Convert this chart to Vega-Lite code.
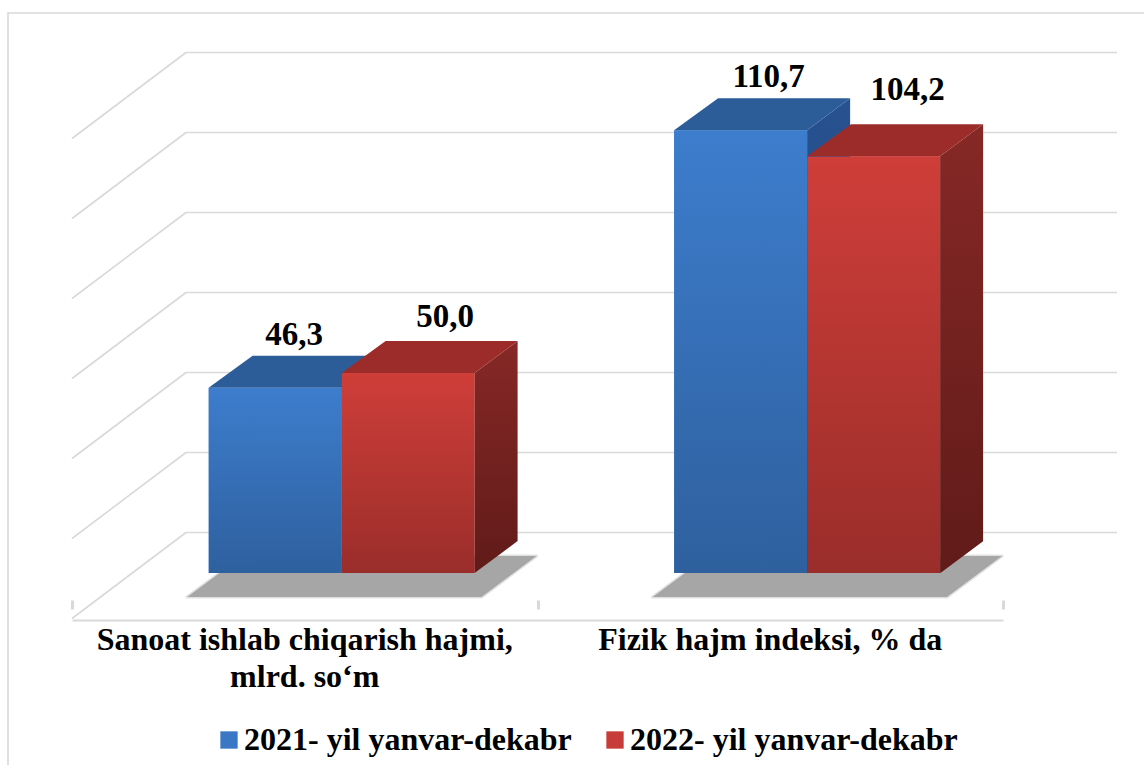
{"$schema":"https://vega.github.io/schema/vega-lite/v6.json","width":931,"height":765,"autosize":"none","padding":{"left":72,"right":141,"top":0,"bottom":0},"background":"white","config":{"view":{"stroke":null},"locale":{"number":{"decimal":",","thousands":" ","grouping":[3],"currency":["",""]}}},"resolve":{"axis":{"x":"independent"}},"datasets":{"bars":[{"category":"Sanoat ishlab chiqarish hajmi, mlrd. so‘m","series":"2021- yil yanvar-dekabr","value":46.3},{"category":"Sanoat ishlab chiqarish hajmi, mlrd. so‘m","series":"2022- yil yanvar-dekabr","value":50.0},{"category":"Fizik hajm indeksi, % da","series":"2021- yil yanvar-dekabr","value":110.7},{"category":"Fizik hajm indeksi, % da","series":"2022- yil yanvar-dekabr","value":104.2}],"levels":[{"level":0},{"level":20},{"level":40},{"level":60},{"level":80},{"level":100},{"level":120}]},"data":{"name":"bars"},"encoding":{"x":{"field":"category","type":"nominal","axis":null,"title":null,"scale":{"domain":["Sanoat ishlab chiqarish hajmi, mlrd. so‘m","Fizik hajm indeksi, % da"],"paddingInner":0,"paddingOuter":0}},"xOffset":{"field":"series","type":"nominal","scale":{"domain":["2021- yil yanvar-dekabr","2022- yil yanvar-dekabr"],"range":[136.6,402.6],"paddingInner":0,"paddingOuter":0}},"y":{"field":"value","type":"quantitative","axis":null,"title":null,"scale":{"domain":[-48,143.25],"nice":false,"zero":false}}},"layer":[{"data":{"name":"levels"},"mark":{"type":"point","filled":false,"size":4,"stroke":"#d9d9d9","strokeWidth":1.6,"opacity":1,"shape":"M-118.75,-40.5L812.25,-40.5M-118.75,-40.5L-232.75,45.5"},"encoding":{"x":{"datum":"Sanoat ishlab chiqarish hajmi, mlrd. so‘m","type":"nominal","axis":null},"xOffset":null,"y":{"field":"level","type":"quantitative","axis":null}}},{"transform":[{"filter":"datum.value==46.3"}],"mark":{"type":"point","filled":false,"size":4,"stroke":"#d9d9d9","strokeWidth":1.6,"opacity":1,"shape":"M-296.75,192L-296.75,-560L839.25,-560"},"encoding":{"x":{"datum":"Sanoat ishlab chiqarish hajmi, mlrd. so‘m","type":"nominal","axis":null},"xOffset":null,"y":{"datum":0,"type":"quantitative"}}},{"transform":[{"filter":"datum.series=='2021- yil yanvar-dekabr'"}],"mark":{"type":"point","filled":true,"size":4,"fill":"#a6a6a6","stroke":"#a6a6a6","strokeOpacity":0.35,"strokeWidth":3,"strokeJoin":"round","opacity":1,"shape":"M-117.5,24L176.75,24L231.75,-17L-62.25,-17Z"},"encoding":{"x":{"field":"category","type":"nominal","axis":{"orient":"bottom","title":null,"domain":false,"labels":false,"grid":false,"tickBand":"extent","ticks":true,"tickSize":-9,"tickWidth":3,"tickColor":"#d9d9d9","offset":-156}},"xOffset":null,"y":{"datum":0,"type":"quantitative"}}},{"mark":{"type":"bar"},"encoding":{"x":{"field":"category","type":"nominal","axis":{"orient":"bottom","title":null,"domain":true,"domainColor":"#d9d9d9","domainWidth":2,"ticks":false,"grid":false,"labelAngle":0,"labelFont":"Liberation Serif","labelFontWeight":"bold","labelFontSize":32,"labelColor":"#000000","labelLimit":700,"labelPadding":4,"labelLineHeight":37,"labelExpr":"indexof(datum.label,'mlrd')>0 ? [slice(datum.label,0,30), slice(datum.label,31)] : datum.label","offset":-145}},"color":{"field":"series","type":"nominal","title":null,"scale":{"domain":["2021- yil yanvar-dekabr","2022- yil yanvar-dekabr"],"range":["#3a78c6","#c73c38"]},"legend":{"orient":"none","legendX":141,"legendY":724,"direction":"horizontal","columns":2,"symbolType":"square","symbolSize":300,"symbolStrokeWidth":0,"labelFont":"Liberation Serif","labelFontWeight":"bold","labelFontSize":32,"labelColor":"#000000","labelLimit":500,"labelOffset":-1,"columnPadding":27,"padding":0}}}},{"transform":[{"filter":"datum.series=='2021- yil yanvar-dekabr'"}],"layer":[{"mark":{"type":"point","filled":true,"size":4,"opacity":1,"strokeWidth":0,"fill":{"gradient":"linear","x1":0,"y1":0,"x2":0,"y2":1,"stops":[{"offset":0,"color":"#275290"},{"offset":1,"color":"#1f4270"}]}},"encoding":{"shape":{"field":"value","type":"nominal","legend":null,"scale":{"domain":[46.3,50,110.7,104.2],"range":["M66.5,0L109.5,-32L109.5,153L66.5,185Z","M66.5,0L109.5,-32L109.5,168L66.5,200Z","M66.5,0L109.5,-32L109.5,411L66.5,443Z","M66.5,0L109.5,-32L109.5,385L66.5,417Z"]}}}},{"mark":{"type":"point","filled":true,"size":4,"opacity":1,"strokeWidth":0,"fill":"#2c5d99","shape":"M-66.5,0L-22.5,-32L109.5,-32L66.5,0Z"}},{"mark":{"type":"bar","cornerRadiusTopLeft":2,"cornerRadiusTopRight":2,"fill":{"gradient":"linear","x1":0,"y1":0,"x2":0,"y2":1,"stops":[{"offset":0,"color":"#3d7dcd"},{"offset":1,"color":"#2e609e"}]}}}]},{"transform":[{"filter":"datum.series=='2022- yil yanvar-dekabr'"}],"layer":[{"mark":{"type":"point","filled":true,"size":4,"opacity":1,"strokeWidth":0,"fill":{"gradient":"linear","x1":0,"y1":0,"x2":0,"y2":1,"stops":[{"offset":0,"color":"#862826"},{"offset":1,"color":"#601b19"}]}},"encoding":{"shape":{"field":"value","type":"nominal","legend":null,"scale":{"domain":[46.3,50,110.7,104.2],"range":["M66.5,0L109.5,-32L109.5,153L66.5,185Z","M66.5,0L109.5,-32L109.5,168L66.5,200Z","M66.5,0L109.5,-32L109.5,411L66.5,443Z","M66.5,0L109.5,-32L109.5,385L66.5,417Z"]}}}},{"mark":{"type":"point","filled":true,"size":4,"opacity":1,"strokeWidth":0,"fill":"#9c2c29","shape":"M-66.5,0L-22.5,-32L109.5,-32L66.5,0Z"}},{"mark":{"type":"bar","cornerRadiusTopLeft":2,"cornerRadiusTopRight":2,"fill":{"gradient":"linear","x1":0,"y1":0,"x2":0,"y2":1,"stops":[{"offset":0,"color":"#cf3e39"},{"offset":1,"color":"#9a2d2a"}]}}}]},{"transform":[{"filter":"datum.value==46.3"}],"mark":{"type":"text","dx":19,"dy":-43,"baseline":"alphabetic","font":"Liberation Serif","fontWeight":"bold","fontSize":33,"color":"#000000"},"encoding":{"text":{"field":"value","type":"quantitative","format":".1f"}}},{"transform":[{"filter":"datum.value==50"}],"mark":{"type":"text","dx":37,"dy":-46,"baseline":"alphabetic","font":"Liberation Serif","fontWeight":"bold","fontSize":33,"color":"#000000"},"encoding":{"text":{"field":"value","type":"quantitative","format":".1f"}}},{"transform":[{"filter":"datum.value==110.7"}],"mark":{"type":"text","dx":28,"dy":-43,"baseline":"alphabetic","font":"Liberation Serif","fontWeight":"bold","fontSize":33,"color":"#000000"},"encoding":{"text":{"field":"value","type":"quantitative","format":".1f"}}},{"transform":[{"filter":"datum.value==104.2"}],"mark":{"type":"text","dx":34,"dy":-56,"baseline":"alphabetic","font":"Liberation Serif","fontWeight":"bold","fontSize":33,"color":"#000000"},"encoding":{"text":{"field":"value","type":"quantitative","format":".1f"}}}]}
